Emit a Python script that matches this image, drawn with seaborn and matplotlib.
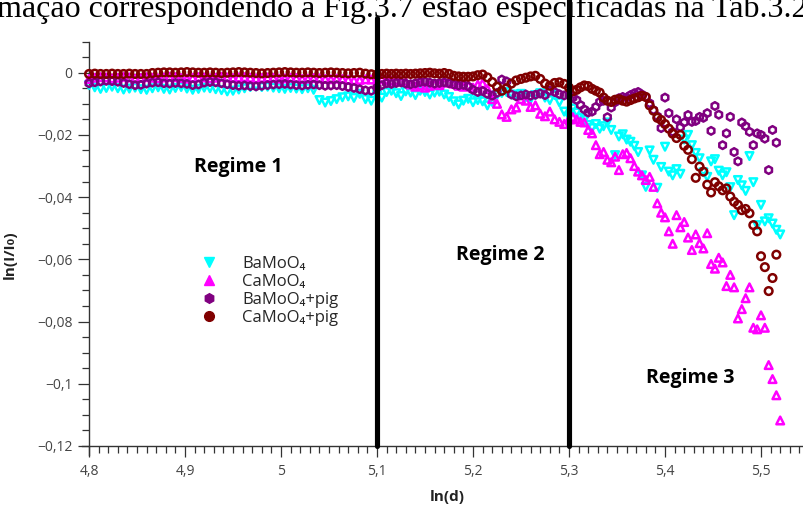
import numpy as np
import matplotlib
matplotlib.use("Agg")
import matplotlib.pyplot as plt
from matplotlib.ticker import MultipleLocator, FuncFormatter
from matplotlib.lines import Line2D
import seaborn as sns

nan = float("nan")

# ln(d) sampling positions shared by the four samples
ln_d = [
    4.800, 4.806, 4.812, 4.818, 4.824, 4.830, 4.836, 4.842, 4.848, 4.854,
    4.860, 4.866, 4.872, 4.878, 4.884, 4.890, 4.896, 4.902, 4.908, 4.914,
    4.920, 4.926, 4.932, 4.938, 4.944, 4.950, 4.956, 4.962, 4.968, 4.974,
    4.980, 4.986, 4.992, 4.998, 5.004, 5.010, 5.016, 5.022, 5.028, 5.034,
    5.040, 5.046, 5.052, 5.058, 5.064, 5.070, 5.076, 5.082, 5.088, 5.094,
    5.100, 5.105, 5.110, 5.115, 5.120, 5.125, 5.130, 5.135, 5.140, 5.145,
    5.150, 5.155, 5.160, 5.165, 5.170, 5.175, 5.180, 5.185, 5.190, 5.195,
    5.200, 5.205, 5.210, 5.215, 5.220, 5.225, 5.230, 5.235, 5.240, 5.245,
    5.250, 5.255, 5.260, 5.265, 5.270, 5.275, 5.280, 5.285, 5.290, 5.295,
    5.300, 5.304, 5.308, 5.312, 5.316, 5.320, 5.324, 5.328, 5.332, 5.336,
    5.340, 5.344, 5.348, 5.352, 5.356, 5.360, 5.364, 5.368, 5.372, 5.376,
    5.380, 5.384, 5.388, 5.392, 5.396, 5.400, 5.404, 5.408, 5.412, 5.416,
    5.420, 5.424, 5.428, 5.432, 5.436, 5.440, 5.444, 5.448, 5.452, 5.456,
    5.460, 5.464, 5.468, 5.472, 5.476, 5.480, 5.484, 5.488, 5.492, 5.496,
    5.500, 5.504, 5.508, 5.512, 5.516, 5.520,
]

# ln(I/I0) for BaMoO4
ln_ratio_bamoo4 = [
    -.0040, -.0047, -.0052, -.0049, -.0045, -.0050, -.0054, -.0051, -.0048, -.0053,
    -.0055, -.0050, -.0047, -.0052, -.0054, -.0049, -.0046, -.0051, -.0055, -.0052,
    -.0048, -.0050, -.0053, -.0056, -.0060, -.0058, -.0054, -.0050, -.0046, -.0044,
    -.0046, -.0045, -.0048, -.0050, -.0052, -.0049, -.0051, -.0053, -.0050, -.0055,
    -.0088, -.0096, -.0091, -.0085, -.0079, -.0076, -.0081, -.0068, -.0085, -.0090,
    -.0072, -.0080, -.0062, -.0058, -.0066, -.0075, -.0060, -.0064, -.0072, -.0058,
    -.0062, -.0070, -.0064, -.0061, -.0070, -.0078, -.0092, -.0102, -.0090, -.0084,
    -.0095, -.0088, -.0092, -.0105, -.0094, -.0072, -.0065, -.0062, -.0070, -.0075,
    -.0068, -.0078, -.0085, -.0072, -.0066, -.0080, -.0088, -.0072, -.0095, -.0125,
    -.0140, -.0115, -.0128, -.0145, -.0152, -.0168, -.0178, -.0165, -.0180, -.0172,
    -.0160, -.0184, -.0265, -.0205, -.0198, -.0215, -.0222, -.0235, -.0255, -.0330,
    -.0367, -.0250, -.0280, -.0370, -.0303, -.0238, -.0318, -.0330, -.0310, -.0325,
    -.0215, -.0200, -.0233, -.0258, -.0275, -.0320, -.0335, -.0285, -.0278, -.0315,
    -.0330, -.0320, -.0368, -.0458, -.0345, -.0362, -.0380, -.0268, -.0352, -.0490,
    -.0425, -.0478, -.0468, -.0485, -.0505, -.0520,
]

# ln(I/I0) for CaMoO4
ln_ratio_camoo4 = [
    -.0020, -.0016, -.0014, -.0015, -.0018, -.0016, -.0013, -.0015, -.0019, -.0017,
    -.0014, -.0016, -.0018, -.0015, -.0013, -.0014, -.0017, -.0019, -.0016, -.0014,
    -.0015, -.0018, -.0016, -.0013, -.0015, -.0017, -.0015, -.0014, -.0016, -.0018,
    -.0017, -.0015, -.0016, -.0019, -.0018, -.0016, -.0017, -.0020, -.0019, -.0017,
    -.0018, -.0020, -.0021, -.0019, -.0020, -.0022, -.0024, -.0023, -.0021, -.0022,
    -.0022, -.0020, -.0023, -.0026, -.0024, -.0027, -.0030, -.0038, -.0045, -.0040,
    -.0048, -.0042, -.0036, -.0040, -.0032, -.0030, -.0035, -.0042, -.0045, -.0040,
    -.0048, -.0038, -.0034, -.0052, -.0085, -.0100, -.0134, -.0142, -.0118, -.0112,
    -.0085, -.0090, -.0110, -.0105, -.0132, -.0140, -.0125, -.0150, -.0158, -.0165,
    -.0150, -.0143, -.0150, -.0158, -.0160, -.0184, -.0195, -.0233, -.0262, -.0255,
    -.0280, -.0288, -.0270, -.0313, -.0262, -.0258, -.0275, -.0300, -.0318, -.0330,
    -.0345, -.0335, -.0367, -.0420, -.0450, -.0465, -.0510, -.0550, -.0458, -.0497,
    -.0480, -.0530, -.0570, -.0520, -.0548, -.0565, -.0516, -.0615, -.0630, -.0595,
    -.0610, -.0686, -.0650, -.0690, -.0790, -.0760, -.0725, -.0690, -.0820, -.0825,
    -.0780, -.0820, -.0940, -.0985, -.1037, -.1118,
]

# ln(I/I0) for BaMoO4 + pigment
ln_ratio_bamoo4_pig = [
    -.0034, -.0031, -.0028, -.0026, -.0027, -.0029, -.0033, -.0037, -.0040, -.0039,
    -.0035, -.0032, -.0031, -.0034, -.0035, -.0033, -.0034, -.0036, -.0040, -.0038,
    -.0032, -.0030, -.0031, -.0034, -.0037, -.0040, -.0042, -.0041, -.0043, -.0044,
    -.0042, -.0040, -.0038, -.0037, -.0036, -.0038, -.0040, -.0041, -.0039, -.0038,
    -.0040, -.0042, -.0041, -.0040, -.0043, -.0046, -.0049, -.0053, -.0057, -.0058,
    -.0048, -.0040, -.0034, -.0036, -.0033, -.0031, -.0035, -.0037, -.0034, -.0030,
    -.0029, -.0032, -.0035, -.0033, -.0031, -.0034, -.0038, -.0041, -.0039, -.0044,
    -.0055, -.0062, -.0059, -.0068, -.0074, -.0065, -.0022, -.0028, -.0070, -.0076,
    -.0073, -.0070, -.0074, -.0071, -.0067, -.0072, -.0058, -.0062, -.0069, -.0073,
    -.0072, -.0080, -.0088, -.0104, -.0118, -.0128, -.0125, -.0110, -.0094, -.0090,
    -.0143, -.0112, -.0095, -.0082, -.0078, -.0080, -.0072, -.0066, -.0062, -.0070,
    -.0078, -.0098, -.0120, -.0140, -.0178, -.0080, -.0130, -.0190, -.0150, -.0175,
    -.0160, -.0136, -.0158, -.0155, -.0142, -.0145, -.0130, -.0187, -.0107, -.0135,
    -.0233, -.0195, -.0142, -.0255, -.0285, -.0160, -.0172, -.0190, -.0233, -.0195,
    -.0200, -.0212, -.0313, -.0184, -.0225, nan,
]

# ln(I/I0) for CaMoO4 + pigment
ln_ratio_camoo4_pig = [
    -.0004, -.0003, -.0004, -.0004, -.0003, -.0004, -.0004, -.0003, -.0004, -.0004,
    -.0004, -.0001, .0000, .0001, .0001, .0000, .0001, .0002, .0001, .0000,
    .0000, .0001, .0000, -.0001, .0000, .0001, .0002, .0001, .0000, -.0001,
    -.0002, -.0001, .0000, .0001, .0002, .0001, .0000, .0000, .0001, .0000,
    -.0001, .0000, .0001, .0000, -.0001, -.0002, -.0001, .0000, -.0003, -.0005,
    -.0006, -.0004, -.0003, -.0004, -.0003, -.0004, -.0003, -.0004, -.0003, -.0002,
    -.0001, .0000, -.0002, -.0003, -.0001, -.0004, -.0010, -.0012, -.0013, -.0013,
    -.0012, -.0008, -.0006, -.0015, -.0030, -.0045, -.0058, -.0050, -.0035, -.0025,
    -.0020, -.0016, -.0012, -.0010, -.0020, -.0035, -.0042, -.0033, -.0031, -.0036,
    -.0048, -.0060, -.0055, -.0047, -.0041, -.0043, -.0052, -.0058, -.0064, -.0080,
    -.0090, -.0094, -.0087, -.0085, -.0090, -.0093, -.0088, -.0083, -.0079, -.0074,
    -.0078, -.0105, -.0122, -.0145, -.0152, -.0165, -.0180, -.0196, -.0210, -.0200,
    -.0235, -.0248, -.0278, -.0338, -.0302, -.0318, -.0360, -.0385, -.0352, -.0365,
    -.0378, -.0372, -.0398, -.0415, -.0425, -.0442, -.0438, -.0452, -.0490, -.0510,
    -.0590, -.0625, -.0702, -.0660, -.0585, nan,
]

series_names = ["BaMoO₄", "CaMoO₄", "BaMoO₄+pig", "CaMoO₄+pig"]
series_values = [ln_ratio_bamoo4, ln_ratio_camoo4, ln_ratio_bamoo4_pig, ln_ratio_camoo4_pig]
series_colors = ["#00ffff", "#ff00ff", "#800080", "#800000"]
series_markers = ["v", "^", "h", "o"]

regime_bounds = [5.1, 5.3]
regime_labels = ["Regime 1", "Regime 2", "Regime 3"]
regime_label_pos = [(4.955, -0.0303), (5.228, -0.0586), (5.426, -0.0982)]

caption_line = "mação correspondendo à Fig.3.7 estão especificadas na Tab.3.2"

sns.set_style("ticks")
plt.rcParams["font.family"] = ["Open Sans", "DejaVu Sans"]
plt.rcParams["axes.unicode_minus"] = True

W, H = 804, 507
fig = plt.figure(figsize=(W / 100, H / 100), dpi=100)
ax_left, ax_bottom, ax_top = 82.3, 455.3, 41.6
ax = fig.add_axes([ax_left / W, 1 - ax_bottom / H, 1 - ax_left / W, (ax_bottom - ax_top) / H])

for vals, name, col, mk in zip(series_values, series_names, series_colors, series_markers):
    sns.scatterplot(x=ln_d, y=vals, ax=ax, marker=mk, s=30, color=col,
                    facecolor="none", edgecolor=col, linewidth=1.8,
                    legend=False, zorder=3)

ax.set_xlim(4.793, 5.5448)
ax.set_ylim(-0.123, 0.0100)

# spines crossing at (4.8, -0.12)
ax.spines["left"].set_position(("data", 4.8))
ax.spines["bottom"].set_position(("data", -0.12))
sns.despine(ax=ax, top=True, right=True)
for side in ("left", "bottom"):
    ax.spines[side].set_color("#333333")
    ax.spines[side].set_linewidth(1.0)

ax.xaxis.set_major_locator(MultipleLocator(0.1))
ax.xaxis.set_minor_locator(MultipleLocator(0.01))
ax.yaxis.set_major_locator(MultipleLocator(0.02))
ax.yaxis.set_minor_locator(MultipleLocator(0.005))


def comma_fmt(v, pos):
    if abs(v) < 1e-9:
        return "0"
    s = f"{v:.2f}".rstrip("0").rstrip(".")
    return s.replace("-", "\u2212").replace(".", ",")


ax.xaxis.set_major_formatter(FuncFormatter(comma_fmt))
ax.yaxis.set_major_formatter(FuncFormatter(comma_fmt))
ax.tick_params(which="major", direction="out", length=8, width=0.9,
               color="#333333", labelcolor="#444444", labelsize=10, pad=4)
ax.tick_params(which="minor", direction="out", length=5, width=0.9, color="#333333")
ax.tick_params(axis="x", which="major", pad=5)

ax.set_xlabel("ln(d)", fontsize=11, fontweight="bold", color="#222222")
ax.set_ylabel("ln(I/I₀)", fontsize=11, fontweight="bold", color="#222222")
ax.xaxis.set_label_coords((447 - ax_left) / (W - ax_left), -(490 - ax_bottom) / (ax_bottom - ax_top))
ax.yaxis.set_label_coords(-(ax_left - 17) / (W - ax_left), (ax_bottom - 255) / (ax_bottom - ax_top))

# regime boundaries
y0 = (-0.12 + 0.123) / 0.133
for xb, top in zip(regime_bounds, [1.057, 1.12]):
    ax.axvline(xb, ymin=y0, ymax=top, color="black", lw=3.7, clip_on=False, zorder=5)

for lab, (tx, ty) in zip(regime_labels, regime_label_pos):
    ax.text(tx, ty, lab, ha="center", va="center", fontsize=14, fontweight="bold", color="black")

handles = [Line2D([], [], ls="none", marker=mk, color=col, markersize=7)
           for col, mk in zip(series_colors, series_markers)]
fig.legend(handles, series_names, loc="center left",
           bbox_to_anchor=(192 / W, 1 - 290.5 / H), bbox_transform=fig.transFigure,
           frameon=False, borderpad=0, borderaxespad=0, handlelength=2.0,
           handletextpad=1.0, labelspacing=0.12, fontsize=12)

fig.text(-0.004, 1 - 17 / H, caption_line, family=["Liberation Serif", "DejaVu Serif"],
         fontsize=23, ha="left", va="baseline", color="black")

fig.savefig("out.png", dpi=100)
